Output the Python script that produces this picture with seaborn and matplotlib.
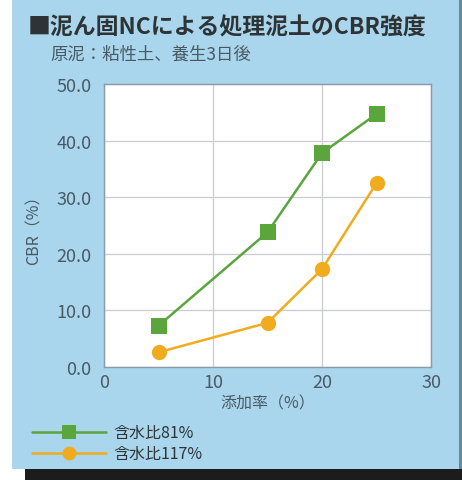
import matplotlib
matplotlib.use("Agg")
import matplotlib.pyplot as plt
import seaborn as sns
import pandas as pd
from matplotlib.patches import Rectangle
from matplotlib.lines import Line2D

sns.set_style("white")
plt.rcParams['font.family'] = ['Noto Sans CJK JP', 'DejaVu Sans']

# data
additive_rate = [5, 15, 20, 25]
cbr_w81 = [7.3, 23.8, 37.8, 44.7]
cbr_w117 = [2.6, 7.8, 17.3, 32.5]
series_names = ["含水比81%", "含水比117%"]
x_ticks = [0, 10, 20, 30]
y_ticks = [0, 10, 20, 30, 40, 50]

df = pd.concat([
    pd.DataFrame({"x": additive_rate, "y": cbr_w81, "s": series_names[0]}),
    pd.DataFrame({"x": additive_rate, "y": cbr_w117, "s": series_names[1]}),
])

W, H = 462, 481
fig = plt.figure(figsize=(W / 100, H / 100), dpi=100)
fig.patch.set_facecolor("white")
bg = "#a9d6ec"
fig.patches.append(Rectangle((12 / W, 11 / H), 447 / W, 1 - 11 / H, transform=fig.transFigure,
                             facecolor=bg, edgecolor="none", zorder=-10))
fig.patches.append(Rectangle((25 / W, 0), 437 / W, 11 / H, transform=fig.transFigure,
                             facecolor="#1c1c1c", edgecolor="none", zorder=-10))
fig.patches.append(Rectangle((459 / W, 11 / H), 3 / W, 1 - 11 / H, transform=fig.transFigure,
                             facecolor="#6a8a9a", edgecolor="none", zorder=-10))

ax = fig.add_axes([104 / W, 1 - 368 / H, 327 / W, 283 / H])
ax.set_facecolor("white")
palette = {series_names[0]: "#5aa63c", series_names[1]: "#f0ac1e"}
markers = {series_names[0]: "s", series_names[1]: "o"}
sns.lineplot(data=df, x="x", y="y", hue="s", style="s", palette=palette, markers=markers,
             dashes=False, markersize=11, markeredgewidth=0, linewidth=1.8, ax=ax, legend=False)

ax.set_xlim(0, 30)
ax.set_ylim(0, 50)
ax.set_xticks(x_ticks)
ax.set_yticks(y_ticks)
ax.set_xticklabels([str(v) for v in x_ticks])
ax.set_yticklabels([f"{v:.1f}" for v in y_ticks])
ax.grid(True, color="#c9ccd6", linewidth=0.9)
for sp in ax.spines.values():
    sp.set_color("#8a9aa8")
    sp.set_linewidth(1.0)
ax.tick_params(axis="both", length=0, colors="#4a5a64", labelsize=13)
ax.tick_params(axis="x", pad=4)
ax.tick_params(axis="y", pad=9)
ax.set_xlabel("添加率（%）", color="#4a5a64", fontsize=11.5, labelpad=3)
ax.set_ylabel("CBR（%）", color="#4a5a64", fontsize=11.5, labelpad=10)

fig.text(28 / W, 1 - 28 / H, "■泥ん固NCによる処理泥土のCBR強度", fontsize=16.5,
         color="#2e3436", fontweight="bold", va="center", ha="left")
fig.text(50 / W, 1 - 55 / H, "原泥：粘性土、養生3日後", fontsize=12.5,
         color="#4a5a64", va="center", ha="left")

handles = [Line2D([], [], color=palette[n], marker=markers[n], markersize=10,
                  markeredgewidth=0, linewidth=1.8) for n in series_names]
fig.legend(handles, series_names, loc="upper left", bbox_to_anchor=(18 / W, 1 - 411 / H),
           frameon=False, fontsize=11.5, handlelength=4.6, handletextpad=0.5,
           labelspacing=0.25, labelcolor="#2e3436")

fig.savefig("out.png", dpi=100, facecolor=fig.get_facecolor())
